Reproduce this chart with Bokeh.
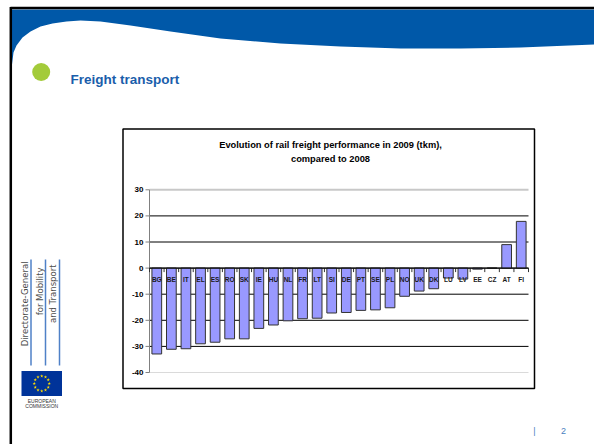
import numpy as np
from bokeh.plotting import figure
from bokeh.models import Range1d, ColumnDataSource
from bokeh.core.properties import value
from bokeh.embed import file_html
from bokeh.resources import INLINE

# ---------------- data ----------------
countries = ["BG", "BE", "IT", "EL", "ES", "RO", "SK", "IE", "HU", "NL", "FR", "LT", "SI",
             "DE", "PT", "SE", "PL", "NO", "UK", "DK", "LU", "LV", "EE", "CZ", "AT", "FI"]
change_pct = [-32.9, -31.1, -30.9, -29.0, -28.4, -27.1, -27.1, -23.1, -21.8, -20.2, -19.4, -19.2, -17.2,
              -17.0, -16.2, -16.0, -15.2, -10.8, -8.8, -7.9, -3.8, -4.2, -0.4, 0.0, 9.0, 17.9]
y_ticks = [30, 20, 10, 0, -10, -20, -30, -40]
y_tick_labels = ["30", "20", "10", "0", "-10", "-20", "-30", "-40"]
chart_title = ["Evolution of rail freight performance in 2009 (tkm),", "compared to 2008"]
slide_title = "Freight transport"
dg_lines = ["Directorate-General", "for Mobility", "and Transport"]
page_number = "2"

# ---------------- geometry (page pixels) ----------------
W, H = 594, 444
PAGE_L, PAGE_T = 0, 0
PLOT_L, PLOT_R = 149.0, 528.0
Y_MAX, Y_MIN = max(y_ticks), min(y_ticks)
PX_YMAX, PX_YMIN = 189.3, 372.0

n = len(countries)
ppu_x = (PLOT_R - PLOT_L) / n
ppu_y = (PX_YMIN - PX_YMAX) / (Y_MAX - Y_MIN)
px_zero = PX_YMAX + Y_MAX * ppu_y

p = figure(width=W, height=H,
           x_range=Range1d(PAGE_L, PAGE_L + W), y_range=Range1d(PAGE_T + H, PAGE_T),
           output_backend="svg", toolbar_location=None, min_border=0,
           x_axis_location=None, y_axis_location=None, outline_line_color=None)
p.background_fill_color = "white"
p.border_fill_color = "white"
p.grid.grid_line_color = None
p.extra_x_ranges = {"bar": Range1d((PAGE_L - PLOT_L) / ppu_x, (PAGE_L + W - PLOT_L) / ppu_x)}
p.extra_y_ranges = {"val": Range1d((px_zero - (PAGE_T + H)) / ppu_y, (px_zero - PAGE_T) / ppu_y)}

FONT = value("Liberation Sans")

# ---------------- slide decoration ----------------
wave_x = [11.5, 11.5, 13, 16, 22, 30, 40, 52, 66, 80, 100, 130, 170, 220, 280, 340, 400, 460, 520, 594, 594]
wave_y = [9, 64, 52, 45, 37, 31, 26, 23, 21, 20, 21, 25, 31, 38, 43, 46, 48, 48, 47, 44, 9]
p.patch(wave_x, wave_y, color="#0058A8", line_width=0)
p.segment(x0=[10], y0=[7.5], x1=[594], y1=[7.5], line_color="black", line_width=2.5)
p.segment(x0=[10.3], y0=[6.5], x1=[10.3], y1=[444], line_color="black", line_width=2.5)

p.scatter(x=[40.7], y=[71.5], size=18, marker="circle", fill_color="#A3CB3A", line_color=None)
p.text(x=[70], y=[79], text=[slide_title], text_font=FONT,
       text_font_style="bold", text_font_size="13.5px", text_color="#1A5EAB",
       text_baseline="alphabetic", text_align="left")

# left vertical organisation name
p.text(x=[24, 39, 52], y=[261, 267, 264], text=dg_lines, angle=np.pi / 2,
       text_align="right", text_baseline="middle", text_font=value("DejaVu Sans"),
       text_font_size="8.5px", text_color="#4d4d4d")
p.segment(x0=[30.5, 45, 59], y0=[259, 259, 259], x1=[30.5, 45, 59], y1=[365, 365, 365],
          line_color="#4F81C7", line_width=1.5)

# EU flag
p.quad(left=[21], right=[61.5], top=[370.5], bottom=[395.5], fill_color="#003399", line_color=None)
ang = np.arange(12) * 2 * np.pi / 12
p.scatter(x=41.25 + 7.5 * np.cos(ang), y=383 + 7.5 * np.sin(ang), marker="star", size=3.5,
          fill_color="#FFDD00", line_color=None)
p.text(x=[41.25, 41.25], y=[400.5, 405.2], text=["EUROPEAN", "COMMISSION"], text_align="center",
       text_baseline="middle", text_font=FONT, text_font_size="5px", text_color="#333333")

# page number
p.text(x=[534, 563], y=[430, 430], text=["|", page_number], text_align="center",
       text_baseline="middle", text_font=FONT, text_font_size="9px", text_color="#4A7EC0")

# ---------------- chart box ----------------
p.quad(left=[122.5], right=[534], top=[128.5], bottom=[388], fill_color="white",
       line_color="black", line_width=1.5)
p.text(x=[330, 330], y=[144, 158.5], text=chart_title, text_align="center", text_baseline="middle",
       text_font=FONT, text_font_style="bold", text_font_size="9.3px", text_color="black")

R = dict(x_range_name="bar", y_range_name="val")

# gridlines
grid_colors = ["#C8C8C8" if t == Y_MAX else ("#DADADA" if t == Y_MIN else "black") for t in y_ticks]
grid_widths = [2 if t == Y_MAX else 1 for t in y_ticks]
p.segment(x0=[0] * len(y_ticks), y0=y_ticks, x1=[n] * len(y_ticks), y1=y_ticks,
          line_color=grid_colors, line_width=grid_widths, **R)

# y axis line + ticks + labels
p.segment(x0=[0], y0=[Y_MIN], x1=[0], y1=[Y_MAX], line_color="#808080", line_width=1, **R)
p.segment(x0=[0] * len(y_ticks), y0=y_ticks, x1=[-4 / ppu_x] * len(y_ticks), y1=y_ticks,
          line_color="#808080", line_width=1, **R)
p.text(x=[0] * len(y_ticks), y=y_ticks, text=y_tick_labels, x_offset=-6, text_align="right",
       text_baseline="middle", text_font=FONT, text_font_style="bold", text_font_size="8px",
       text_color="black", **R)

# bars
src = ColumnDataSource(dict(x=np.arange(n) + 0.5, top=change_pct, cat=countries))
p.vbar(x="x", width=0.667, top="top", bottom=0, source=src, fill_color="#9999FF",
       line_color="#333333", line_width=1, **R)

# category axis at zero
bounds = list(range(n + 1))
p.segment(x0=bounds, y0=[0] * (n + 1), x1=bounds, y1=[-4 / ppu_y] * (n + 1),
          line_color="#333333", line_width=1, **R)
p.segment(x0=[0], y0=[0], x1=[n], y1=[0], line_color="black", line_width=1, **R)
p.text(x="x", y=0, text="cat", source=src, y_offset=11, text_align="center",
       text_baseline="middle", text_font=FONT, text_font_style="bold", text_font_size="6.5px",
       text_color="#1a1a1a", **R)

open("out.html", "w").write(file_html(p, INLINE))
